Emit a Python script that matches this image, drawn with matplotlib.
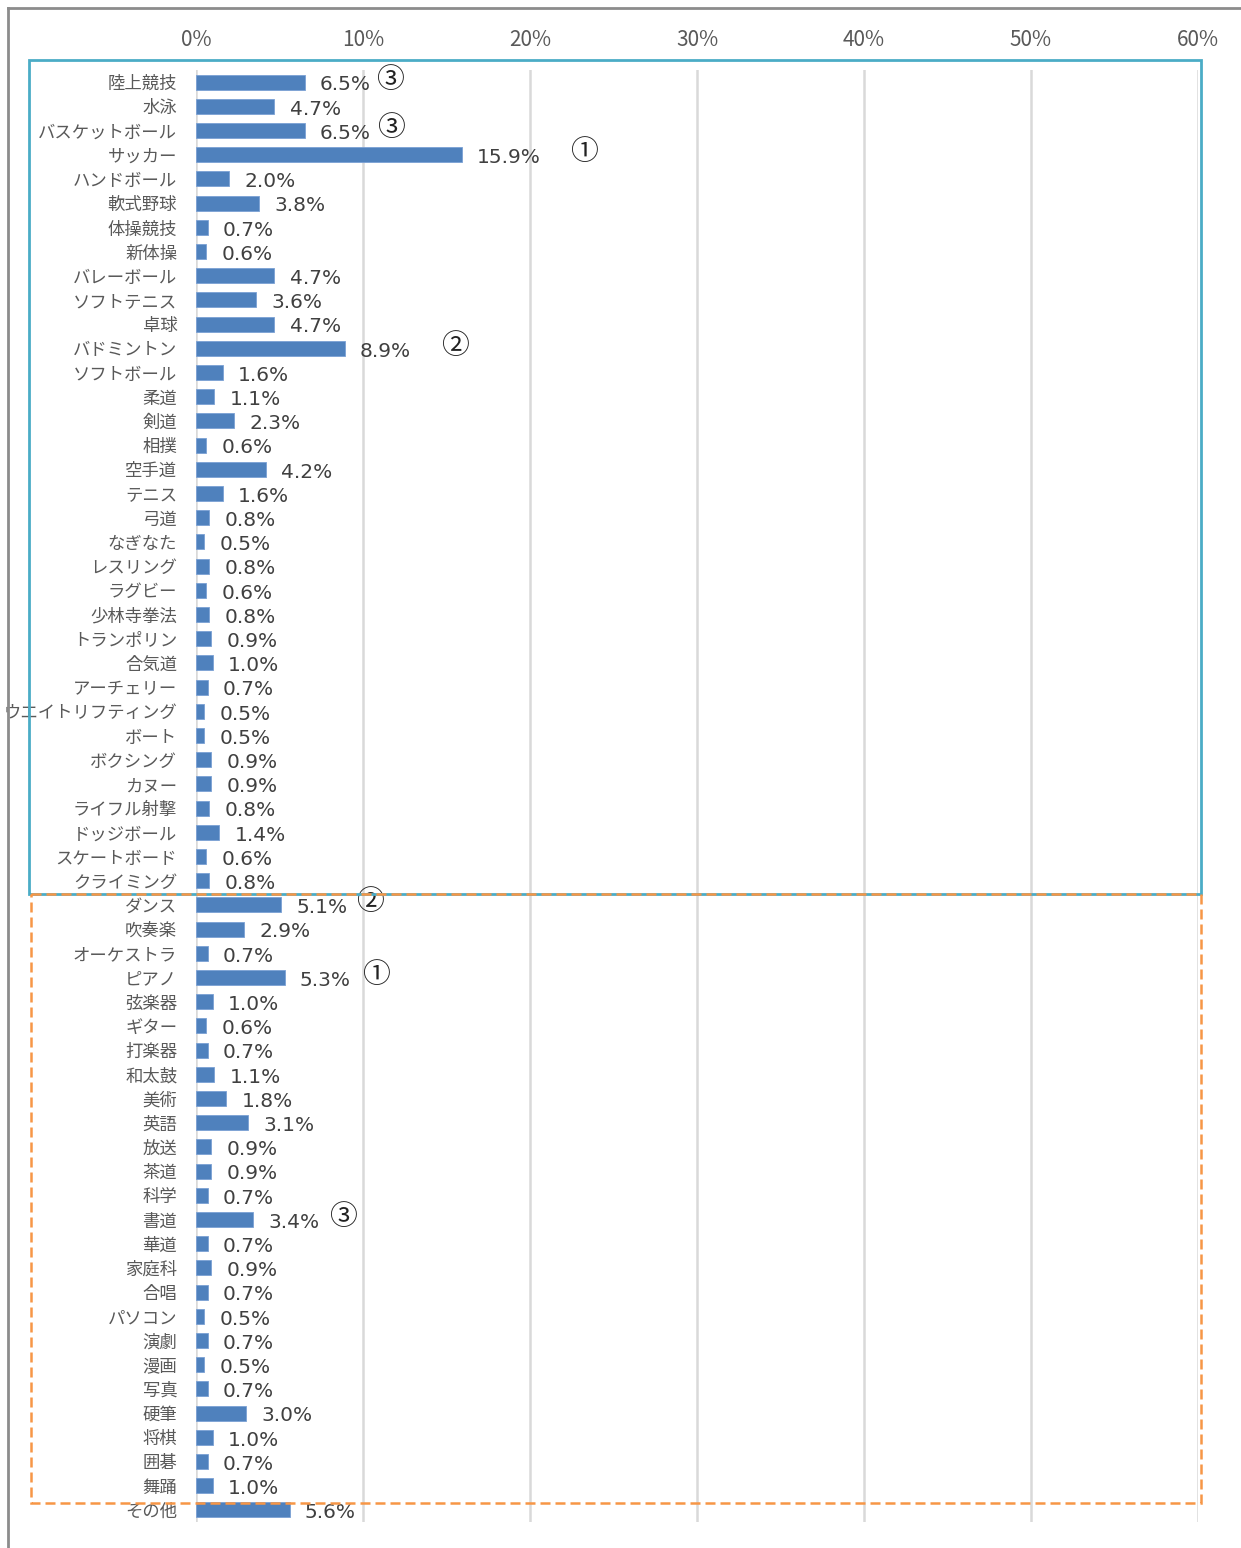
import numpy as np
import matplotlib.pyplot as plt
from matplotlib.patches import Rectangle
from matplotlib.lines import Line2D
import matplotlib.transforms as mtransforms

plt.rcParams['font.family'] = ['Noto Sans CJK JP', 'DejaVu Sans']

sports = ['陸上競技', '水泳', 'バスケットボール', 'サッカー', 'ハンドボール', '軟式野球',
          '体操競技', '新体操', 'バレーボール', 'ソフトテニス', '卓球', 'バドミントン',
          'ソフトボール', '柔道', '剣道', '相撲', '空手道', 'テニス', '弓道', 'なぎなた',
          'レスリング', 'ラグビー', '少林寺拳法', 'トランポリン', '合気道', 'アーチェリー',
          'ウエイトリフティング', 'ボート', 'ボクシング', 'カヌー', 'ライフル射撃',
          'ドッジボール', 'スケートボード', 'クライミング']
sports_vals = [6.5, 4.7, 6.5, 15.9, 2.0, 3.8, 0.7, 0.6, 4.7, 3.6, 4.7, 8.9,
               1.6, 1.1, 2.3, 0.6, 4.2, 1.6, 0.8, 0.5, 0.8, 0.6, 0.8, 0.9, 1.0, 0.7,
               0.5, 0.5, 0.9, 0.9, 0.8, 1.4, 0.6, 0.8]

culture = ['ダンス', '吹奏楽', 'オーケストラ', 'ピアノ', '弦楽器', 'ギター', '打楽器', '和太鼓',
           '美術', '英語', '放送', '茶道', '科学', '書道', '華道', '家庭科', '合唱', 'パソコン',
           '演劇', '漫画', '写真', '硬筆', '将棋', '囲碁', '舞踊']
culture_vals = [5.1, 2.9, 0.7, 5.3, 1.0, 0.6, 0.7, 1.1, 1.8, 3.1, 0.9, 0.9, 0.7, 3.4,
                0.7, 0.9, 0.7, 0.5, 0.7, 0.5, 0.7, 3.0, 1.0, 0.7, 1.0]

other = ['その他']
other_vals = [5.6]

# rank marks: category -> (mark, x position in %)
ranks = {'陸上競技': ('③', 11.6), 'バスケットボール': ('③', 11.7), 'サッカー': ('①', 23.2),
         'バドミントン': ('②', 15.5), 'ダンス': ('②', 10.4), 'ピアノ': ('①', 10.8),
         '書道': ('③', 8.8)}

cats = sports + culture + other
vals = sports_vals + culture_vals + other_vals
y = np.arange(len(cats))

fig = plt.figure(figsize=(12.41, 15.48), dpi=100)
ax = fig.add_axes([196 / 1241, 1 - 1522 / 1548, (1198 - 196) / 1241, (1522 - 70) / 1548])

ax.barh(y, vals, height=0.62, color='#4f81bd', edgecolor='#7aa0d4', linewidth=0.6, zorder=3)
ax.set_xlim(0, 60)
ax.set_ylim(len(cats) - 0.5, -0.5)
ax.set_xticks(np.arange(0, 61, 10))
ax.set_xticklabels([f'{t}%' for t in range(0, 61, 10)])
ax.xaxis.tick_top()
ax.tick_params(axis='x', length=0, pad=14, labelsize=15, labelcolor='#595959')
ax.set_yticks(y)
ax.set_yticklabels(cats)
ax.tick_params(axis='y', length=0, pad=13.5, labelsize=12.5, labelcolor='#595959')
ax.grid(axis='x', color='#d9d9d9', linewidth=1.8, zorder=0)
for s in ax.spines.values():
    s.set_visible(False)

for yi, v in zip(y, vals):
    ax.annotate(f'{v:.1f}%', (v, yi), xytext=(11, -2), textcoords='offset points',
                ha='left', va='center', fontsize=14.5, color='#404040',
                family=['DejaVu Sans'])

for c, (m, xp) in ranks.items():
    ax.text(xp, cats.index(c) - 0.1, m, ha='center', va='center', fontsize=20, color='#222222')

# group boxes (x in figure pixels, y in data rows)
trans = mtransforms.blended_transform_factory(fig.transFigure, ax.transData)
n1 = len(sports)
n2 = len(culture)
ax.add_patch(Rectangle((29 / 1241, -0.93), (1201 - 29) / 1241, n1 + 0.47, transform=trans,
                       fill=False, edgecolor='#4bacc6', linewidth=2, clip_on=False, zorder=5))
ax.add_patch(Rectangle((31 / 1241, n1 - 0.44), (1201 - 31) / 1241, n2 + 0.15, transform=trans,
                       fill=False, edgecolor='#f79646', linewidth=1.8, linestyle=(0, (4, 2)),
                       clip_on=False, zorder=6))

# outer chart frame
fig.add_artist(Line2D([8 / 1241, 1], [1 - 8 / 1548, 1 - 8 / 1548], color='#8c8c8c', linewidth=2))
fig.add_artist(Line2D([8 / 1241, 8 / 1241], [0, 1 - 8 / 1548], color='#8c8c8c', linewidth=2))

fig.savefig('out.png', dpi=100, facecolor='white')
